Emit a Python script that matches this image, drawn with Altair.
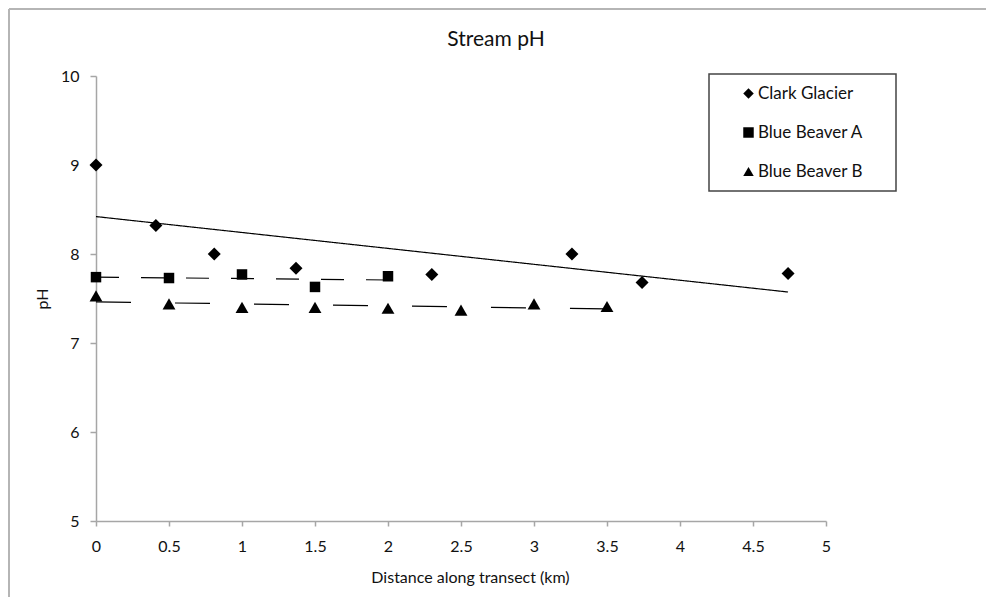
import altair as alt
import pandas as pd

# ---- data ----
series_names = ["Clark Glacier", "Blue Beaver A", "Blue Beaver B"]

clark_x = [0, 0.41, 0.81, 1.37, 2.30, 3.26, 3.74, 4.74]
clark_y = [9.0, 8.32, 8.0, 7.84, 7.77, 8.0, 7.68, 7.78]

bba_x = [0, 0.5, 1.0, 1.5, 2.0]
bba_y = [7.74, 7.73, 7.77, 7.63, 7.75]

bbb_x = [0, 0.5, 1.0, 1.5, 2.0, 2.5, 3.0, 3.5]
bbb_y = [7.53, 7.44, 7.40, 7.40, 7.39, 7.37, 7.44, 7.41]

x_ticks = [0, 0.5, 1, 1.5, 2, 2.5, 3, 3.5, 4, 4.5, 5]
y_ticks = [5, 6, 7, 8, 9, 10]

rows = []
for name, xs, ys in zip(series_names, [clark_x, bba_x, bbb_x], [clark_y, bba_y, bbb_y]):
    for xv, yv in zip(xs, ys):
        rows.append({"series": name, "grp": name, "x": xv, "y": yv})
df = pd.DataFrame(rows)

FONT = "Lato"
AXIS_GRAY = "#a6a6a6"

x_enc = alt.X(
    "x:Q",
    scale=alt.Scale(domain=[0, 5], nice=False, zero=False),
    axis=alt.Axis(
        values=x_ticks, format="~g", grid=False, labelFlush=False,
        domainColor=AXIS_GRAY, domainWidth=1.5, tickColor=AXIS_GRAY, tickWidth=1.5,
        tickSize=5, labelPadding=12, labelFontSize=16, labelColor="#111",
        title="Distance along transect (km)", titleFontSize=16, titleFontWeight="normal",
        titleColor="#111", titleX=374, titleY=61, titleBaseline="alphabetic",
    ),
)
y_enc = alt.Y(
    "y:Q",
    scale=alt.Scale(domain=[5, 10], nice=False, zero=False),
    axis=alt.Axis(
        values=y_ticks, format="~g", grid=False,
        domainColor=AXIS_GRAY, domainWidth=1.5, tickColor=AXIS_GRAY, tickWidth=1.5,
        tickSize=6, labelPadding=11, labelFontSize=16, labelColor="#111",
        title="pH", titleFontSize=16, titleFontWeight="normal", titleColor="#111",
        titleX=-49, titleY=222.5, titleBaseline="alphabetic", titleAngle=270,
    ),
)

points = alt.Chart(df).mark_point(filled=True, color="black", opacity=1).encode(
    x=x_enc,
    y=y_enc,
    shape=alt.Shape(
        "series:N",
        scale=alt.Scale(domain=series_names, range=["diamond", "square", "triangle-up"]),
        legend=alt.Legend(
            orient="none", legendX=613, legendY=-2,
            padding=11, strokeColor="#444",
            symbolOffset=20, symbolSize=110, symbolFillColor="black",
            labelFontSize=17, labelColor="#111", labelOffset=1, rowPadding=21,
            # invisible spacer title on the right widens the box as in the reference
            title=".", titleOrient="right", titleOpacity=0, titleFontSize=10,
            titlePadding=19,
        ),
    ),
    size=alt.Size(
        "grp:N",
        scale=alt.Scale(type="ordinal", domain=series_names, range=[169, 110, 165]),
        legend=None,
    ),
)

trend = alt.Chart(df).transform_regression(
    "x", "y", groupby=["grp"]
).mark_line(color="black", strokeWidth=1.2).encode(
    x="x:Q",
    y="y:Q",
    strokeDash=alt.StrokeDash(
        "grp:N",
        scale=alt.Scale(domain=series_names, range=[[1, 0], [23, 22], [35, 44]]),
        legend=None,
    ),
)

# outer frame (top and left edges, as in the reference)
frame_top = alt.Chart(df).mark_rule(color="#b5b5b5", strokeWidth=2).encode(
    x=alt.value(-87), x2=alt.value(890), y=alt.value(-67)
)
frame_left = alt.Chart(df).mark_rule(color="#b5b5b5", strokeWidth=2).encode(
    x=alt.value(-87), y=alt.value(-67), y2=alt.value(521)
)

chart = alt.layer(frame_top, frame_left, trend, points).resolve_legend(
    shape="independent"
).properties(
    width=730,
    height=445,
    padding={"left": 88, "top": 68, "right": 160, "bottom": 76},
    autosize=alt.AutoSizeParams(type="none"),
    title=alt.TitleParams(
        "Stream pH", fontSize=21, font=FONT, fontWeight="normal", color="#111",
        anchor="middle", frame="group", dx=35, dy=59, offset=0, baseline="alphabetic",
    ),
).configure(font=FONT).configure_view(stroke=None).configure_legend(strokeWidth=1.5)

chart.save("out.html", embed_options={"renderer": "svg", "actions": False})
